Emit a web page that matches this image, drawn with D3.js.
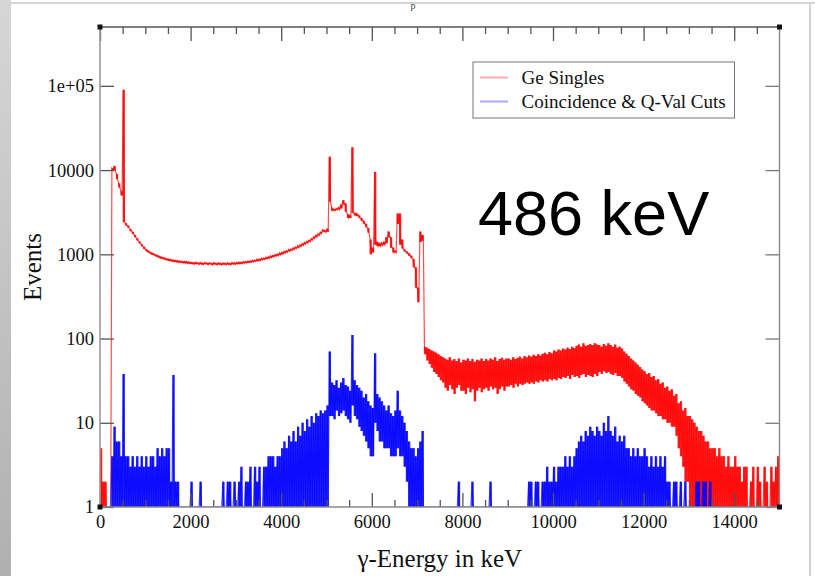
<!DOCTYPE html>
<html>
<head>
<meta charset="utf-8">
<script src="https://cdn.jsdelivr.net/npm/d3@7"></script>
<style>
  body { margin: 0; background: #fff; }
  svg { display: block; }
</style>
</head>
<body>
<svg id="chart"></svg>
<script>
// histogram bins are 50 keV wide; each bin keeps the max and min count seen in it
const BIN = 50;

const redHi = [
  5,2,2,0,0, 10500,11200,9000,7000,5600, 90000,2350,2200,2000,1850, 1700,1550,1420,1320,1230,
  1150,1100,1060,1030,1000, 975,950,930,910,895, 880,870,860,850,845, 835,830,825,820,815,
  805,798,806,792,800, 790,802,788,796,786, 798,784,794,782,792, 786,795,785,800,792,
  800,810,808,820,822, 835,838,850,857,872, 880,898,907,925,938, 960,973,995,1012,1040,
  1055,1085,1105,1140,1160, 1195,1225,1260,1295,1340, 1385,1430,1480,1540,1620, 1690,1760,1840,1960,1930,
  2000,14400,3600,3450,3500, 3600,3900,4400,4000,3000, 2900,18700,3100,3050,2900, 2700,2500,2300,2050,1500,
  1200,9500,1400,1350,1370, 1400,1600,1870,1600,1200, 1100,3050,3050,1500,1150, 1080,1030,960,880,700,
  400,1860,1700,80,78, 75,72,70,68,65, 62,60,58,56,60, 55,57,54,58,52,
  56,55,58,54,57, 53,56,55,58,54, 57,55,58,56,60, 54,57,59,56,58,
  58,56,60,57,59, 61,58,62,60,63, 61,64,62,65,63, 66,68,65,69,67,
  72,70,74,72,76, 74,78,75,80,77, 82,85,80,88,82, 84,86,83,88,85,
  84,80,86,82,88, 84,80,85,78,80, 76,70,66,62,58, 55,52,49,46,43,
  41,38,39,35,36, 32,33,29,30,26, 27,24,25,21,22, 17,18,14,15,12,
  12,11,10,9,8, 8,7,6,6,5, 5,5,4,5,4, 4,3,4,3,3,
  4,3,3,2,3, 3,0,2,3,0, 3,2,0,3,2, 0,3,2,3,4
];

const redLo = [
  0,0,0,0,0, 10000,9800,7800,6200,5000, 2400,2200,2070,1880,1740, 1600,1460,1340,1245,1160,
  1090,1045,1005,980,950, 925,900,885,865,850, 835,825,815,808,800, 795,788,783,780,775,
  768,762,770,756,764, 752,766,750,760,748, 762,746,758,745,755, 750,758,748,762,756,
  765,770,775,782,788, 795,802,810,820,830, 840,855,866,880,895, 912,930,948,965,985,
  1005,1030,1055,1085,1110, 1140,1170,1200,1235,1275, 1320,1360,1410,1465,1540, 1600,1670,1750,1860,1830,
  1850,4200,3300,3300,3350, 3400,3500,3900,3200,2700, 2700,3100,2900,2850,2700, 2500,2300,2100,1800,1000,
  1050,1300,1250,1250,1270, 1300,1350,1600,1200,1050, 1050,2300,1300,1170,1080, 1020,960,900,700,400,
  270,1400,1450,65,55, 50,45,40,38,35, 32,30,26,24,28, 25,22,26,28,24,
  24,22,26,23,25, 18,24,26,23,25, 26,24,27,25,26, 22,25,27,24,27,
  27,28,26,29,27, 29,28,29,30,29, 30,29,31,30,32, 31,32,31,33,32,
  33,32,34,33,35, 34,36,33,37,35, 36,34,37,38,35, 37,36,35,38,36,
  40,38,41,39,40, 38,37,39,36,36, 34,31,29,27,25, 24,22,21,20,18,
  17,16,15,14,14, 13,12,12,11,11, 10,10,9,9,7, 5,4,3,2,2,
  1,0,0,0,0, 0,0,0,0,0, 0,0,0,0,0, 0,0,0,0,0,
  0,0,0,0,0, 0,0,0,0,0, 0,0,0,0,0, 0,0,0,0,0
];

const blueHi = [
  0,0,0,0,0, 4,9,6,6,4, 38,4,4,3,4, 3,4,3,4,3,
  4,3,4,4,3, 5,4,5,4,5, 5,2,37,2,2, 0,0,0,0,0,
  2,0,0,0,2, 0,0,0,0,0, 0,0,0,0,2, 0,2,2,0,2,
  0,2,3,0,2, 2,3,0,3,2, 3,0,3,3,4, 4,4,3,4,4,
  5,6,5,7,6, 8,6,9,7,10, 8,11,9,12,10, 13,12,14,13,14,
  16,70,30,28,32, 26,30,34,28,27, 24,110,32,28,26, 24,20,22,18,16,
  15,67,22,20,18, 16,14,16,13,12, 14,24,14,12,10, 8,6,5,5,4,
  5,6,8,0,0, 0,0,0,0,0, 0,0,0,0,0, 0,0,0,2,0,
  0,0,0,0,2, 0,0,0,0,0, 0,0,2,0,0, 0,0,0,0,0,
  0,0,0,0,0, 0,0,0,0,2, 2,0,2,2,0, 2,2,3,2,2,
  3,2,3,3,3, 4,3,4,3,4, 5,6,7,6,8, 7,9,8,7,9,
  8,7,10,8,12, 8,7,9,6,7, 6,7,5,5,4, 5,4,5,4,4,
  5,4,3,4,3, 4,3,4,3,4, 2,2,0,2,2, 0,2,0,2,0,
  0,0,0,2,2, 0,2,2,0,2, 0,0,0,0,0, 0,0,0,0,0,
  0,0,0,0,0, 0,0,0,0,0, 0,0,0,0,0, 0,0,0,0,0
];

const blueLo = [
  0,0,0,0,0, 0,0,0,0,0, 0,0,0,0,0, 0,0,0,0,0,
  0,0,0,0,0, 0,0,0,0,0, 0,0,0,0,0, 0,0,0,0,0,
  0,0,0,0,0, 0,0,0,0,0, 0,0,0,0,0, 0,0,0,0,0,
  0,0,0,0,0, 0,0,0,0,0, 0,0,0,0,0, 0,0,0,0,0,
  0,0,0,0,0, 0,0,0,0,0, 0,0,0,0,0, 0,0,0,0,0,
  0,12,12,11,14, 12,13,14,12,11, 10,16,12,11,9, 8,7,6,5,4,
  4,10,8,6,6, 5,5,5,4,4, 4,5,4,4,3, 2,0,0,0,0,
  0,0,0,0,0, 0,0,0,0,0, 0,0,0,0,0, 0,0,0,0,0,
  0,0,0,0,0, 0,0,0,0,0, 0,0,0,0,0, 0,0,0,0,0,
  0,0,0,0,0, 0,0,0,0,0, 0,0,0,0,0, 0,0,0,0,0,
  0,0,0,0,0, 0,0,0,0,0, 0,0,0,0,0, 0,0,0,0,0,
  0,0,0,0,0, 0,0,0,0,0, 0,0,0,0,0, 0,0,0,0,0,
  0,0,0,0,0, 0,0,0,0,0, 0,0,0,0,0, 0,0,0,0,0,
  0,0,0,0,0, 0,0,0,0,0, 0,0,0,0,0, 0,0,0,0,0,
  0,0,0,0,0, 0,0,0,0,0, 0,0,0,0,0, 0,0,0,0,0
];

const xMajorTicks = [0, 2000, 4000, 6000, 8000, 10000, 12000, 14000];
const yMajorTicks = [1, 10, 100, 1000, 10000, 100000];
const yTickLabels = ["1", "10", "100", "1000", "10000", "1e+05"];
const seriesNames = ["Ge Singles", "Coincidence & Q-Val Cuts"];
const seriesColors = ["#ff0000", "#0000ff"];
const legendColors = ["#ffaaaa", "#aaaaff"];

const width = 815, height = 576;
const margin = { left: 100, right: 35.5, top: 27, bottom: 69 };
const plotW = width - margin.left - margin.right;
const plotH = height - margin.top - margin.bottom;

const svg = d3.select("#chart").attr("width", width).attr("height", height);

// page decoration around the slide
const defs = svg.append("defs");
const grad = defs.append("linearGradient").attr("id", "side").attr("x1", 0).attr("x2", 0).attr("y1", 0).attr("y2", 1);
grad.append("stop").attr("offset", "0%").attr("stop-color", "#d6d6d6");
grad.append("stop").attr("offset", "100%").attr("stop-color", "#b0b0b0");
svg.append("rect").attr("x", 0).attr("y", 0).attr("width", 11).attr("height", height).attr("fill", "url(#side)");
svg.append("rect").attr("x", 11).attr("y", 2).attr("width", width - 11).attr("height", 2).attr("fill", "#d4d4d4");
svg.append("rect").attr("x", 809).attr("y", 3).attr("width", 2).attr("height", height).attr("fill", "#d4d4d4");

svg.append("text").attr("x", 413).attr("y", 9)
  .attr("text-anchor", "middle").attr("font-family", "Liberation Serif").attr("font-size", 10)
  .attr("fill", "#444").text("p");

defs.append("clipPath").attr("id", "plotclip").append("rect")
  .attr("width", plotW).attr("height", plotH);

const x = d3.scaleLinear().domain([0, 15000]).range([0, plotW]);
const y = d3.scaleLog().domain([1, 5e5]).range([plotH, 0]);

const g = svg.append("g").attr("transform", `translate(${margin.left},${margin.top})`);

const yv = (v) => y(Math.max(v, 1));

function zigzag(hi, lo) {
  const pts = [];
  hi.forEach((h, i) => {
    const e0 = i * BIN;
    pts.push([e0 + BIN * 0.25, h]);
    pts.push([e0 + BIN * 0.75, lo[i]]);
  });
  return pts;
}

const line = d3.line()
  .x((d) => x(d[0]))
  .y((d) => yv(d[1]));

// band between min and max count of every bin
const band = d3.area()
  .curve(d3.curveStepAfter)
  .x((d) => x(d.e))
  .y0((d) => yv(d.lo))
  .y1((d) => yv(d.hi));

function bins(hi, lo) {
  const rows = hi.map((h, i) => ({ e: i * BIN, hi: h, lo: lo[i] }));
  rows.push({ e: hi.length * BIN, hi: hi[hi.length - 1], lo: lo[lo.length - 1] });
  return rows;
}

const plot = g.append("g").attr("clip-path", "url(#plotclip)");
[[redHi, redLo], [blueHi, blueLo]].forEach(([hi, lo], k) => {
  plot.append("path")
    .attr("d", band(bins(hi, lo)))
    .attr("fill", seriesColors[k])
    .attr("fill-opacity", 0.85);
  plot.append("path")
    .attr("d", line(zigzag(hi, lo)))
    .attr("fill", "none")
    .attr("stroke", seriesColors[k])
    .attr("stroke-width", 1.2)
    .attr("stroke-opacity", 0.7);
});

// ticks (inward, grace style)
const xMinor = d3.range(500, 15000, 500).filter((v) => v % 2000 !== 0);
const font = "Liberation Serif";

function styleAxis(sel, color) {
  sel.select(".domain").remove();
  sel.selectAll(".tick line").attr("stroke", color).attr("stroke-width", 1.3);
  sel.selectAll(".tick text").attr("font-family", font).attr("font-size", 18.5).attr("fill", "#111");
}

g.append("g").attr("transform", `translate(0,${plotH})`)
  .call(d3.axisBottom(x).tickValues(xMajorTicks).tickSize(-14).tickPadding(8).tickFormat(d3.format("d")))
  .call((s) => styleAxis(s, "#555"));
g.append("g").attr("transform", `translate(0,${plotH})`)
  .call(d3.axisBottom(x).tickValues(xMinor).tickSize(-7).tickFormat(""))
  .call((s) => styleAxis(s, "#555"));
g.append("g")
  .call(d3.axisTop(x).tickValues(xMajorTicks).tickSize(-14).tickFormat(""))
  .call((s) => styleAxis(s, "#555"));
g.append("g")
  .call(d3.axisTop(x).tickValues(xMinor).tickSize(-7).tickFormat(""))
  .call((s) => styleAxis(s, "#555"));
g.append("g")
  .call(d3.axisLeft(y).tickValues(yMajorTicks).tickSize(-14).tickPadding(6)
    .tickFormat((d, i) => yTickLabels[i]))
  .call((s) => styleAxis(s, "#555"));
g.append("g").attr("transform", `translate(${plotW},0)`)
  .call(d3.axisRight(y).tickValues(yMajorTicks).tickSize(-14).tickFormat(""))
  .call((s) => styleAxis(s, "#777"));

// frame
g.append("line").attr("x1", 0).attr("x2", 0).attr("y1", 0).attr("y2", plotH).attr("stroke", "#999").attr("stroke-width", 1.6);
g.append("line").attr("x1", 0).attr("x2", plotW).attr("y1", plotH).attr("y2", plotH).attr("stroke", "#888").attr("stroke-width", 1.6);
g.append("line").attr("x1", 0).attr("x2", plotW).attr("y1", 0).attr("y2", 0).attr("stroke", "#555").attr("stroke-width", 1.4);
g.append("line").attr("x1", plotW).attr("x2", plotW).attr("y1", 0).attr("y2", plotH).attr("stroke", "#888").attr("stroke-width", 1.4);
[[0, 0], [plotW, 0], [0, plotH], [plotW, plotH]].forEach(([cx, cy]) => {
  g.append("rect").attr("x", cx - 2.5).attr("y", cy - 2.5).attr("width", 5).attr("height", 5).attr("fill", "#111");
});

// axis titles
svg.append("text").attr("x", margin.left + plotW / 2).attr("y", 567)
  .attr("text-anchor", "middle").attr("font-family", font).attr("font-size", 25)
  .attr("fill", "#111").text("γ-Energy in keV");
svg.append("text").attr("transform", `translate(41,${margin.top + plotH / 2}) rotate(-90)`)
  .attr("text-anchor", "middle").attr("font-family", font).attr("font-size", 25)
  .attr("fill", "#111").text("Events");

// legend
const legend = svg.append("g").attr("transform", "translate(473,62)");
legend.append("rect").attr("width", 261.5).attr("height", 56)
  .attr("fill", "#fff").attr("stroke", "#777").attr("stroke-width", 1);
seriesNames.forEach((name, i) => {
  const ly = 15.5 + i * 24;
  legend.append("line").attr("x1", 7).attr("x2", 35).attr("y1", ly).attr("y2", ly)
    .attr("stroke", legendColors[i]).attr("stroke-width", 2);
  legend.append("text").attr("x", 48.5).attr("y", ly + 6).attr("font-family", font)
    .attr("font-size", 19).attr("fill", "#111").text(name);
});

// annotation
svg.append("text").attr("x", 478).attr("y", 235)
  .attr("font-family", "Liberation Sans").attr("font-size", 63).attr("fill", "#000")
  .text("486 keV");
</script>
</body>
</html>
